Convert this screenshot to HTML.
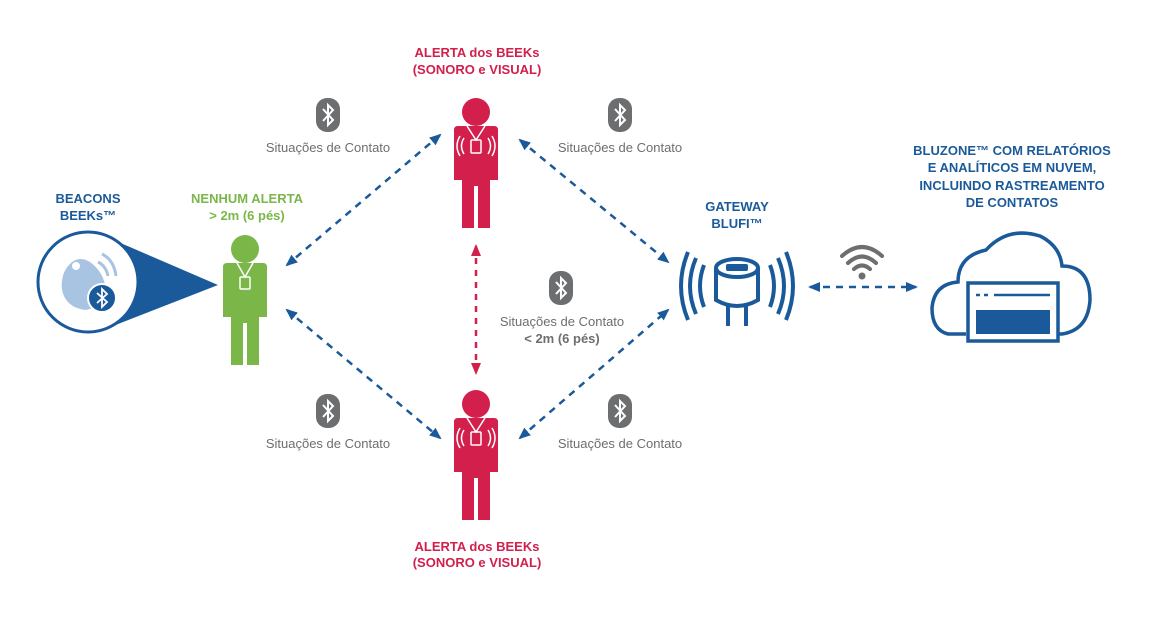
<!DOCTYPE html>
<html><head><meta charset="utf-8"><style>
body{margin:0;background:#fff;}
svg text{font-family:"Liberation Sans",sans-serif;}
.b{font-weight:bold;font-size:13px;}
.g{font-size:13px;fill:#6d6e70;}
</style></head><body>
<svg width="1170" height="616" viewBox="0 0 1170 616" xmlns="http://www.w3.org/2000/svg">
<defs>
<marker id="ab" markerUnits="userSpaceOnUse" markerWidth="12" markerHeight="12" refX="10" refY="6" orient="auto-start-reverse"><path d="M0,1 L12,6 L0,11z" fill="#1b5a9a"/></marker>
<marker id="ar" markerUnits="userSpaceOnUse" markerWidth="12" markerHeight="12" refX="10" refY="6" orient="auto-start-reverse"><path d="M0,1 L12,6 L0,11z" fill="#d21f4c"/></marker>
<g id="bt"><rect x="-12" y="-17" width="24" height="34" rx="11" fill="#6d6e70"/><path d="M-5,-6 L5,5 L0,10 L0,-10 L5,-5 L-5,6" fill="none" stroke="#fff" stroke-width="2"/></g>
<g id="person">
<circle cx="0" cy="-16" r="14"/>
<path d="M-22,2 Q-22,-2 -18,-2 L18,-2 Q22,-2 22,2 L22,52 L14,52 L14,100 L2,100 L2,58 L-2,58 L-2,100 L-14,100 L-14,52 L-22,52z"/>
</g>
</defs>
<!-- texts -->
<g class="b" fill="#d21f4c" text-anchor="middle">
<text x="477" y="57">ALERTA dos BEEKs</text><text x="477" y="74">(SONORO e VISUAL)</text>
<text x="477" y="551">ALERTA dos BEEKs</text><text x="477" y="567">(SONORO e VISUAL)</text>
</g>
<g class="b" fill="#1b5a9a" text-anchor="middle">
<text x="88" y="203">BEACONS</text><text x="88" y="220">BEEKs™</text>
<text x="737" y="211">GATEWAY</text><text x="737" y="228">BLUFI™</text>
<text x="1012" y="155">BLUZONE™ COM RELATÓRIOS</text>
<text x="1012" y="172">E ANALÍTICOS EM NUVEM,</text>
<text x="1012" y="190">INCLUINDO RASTREAMENTO</text>
<text x="1012" y="207">DE CONTATOS</text>
</g>
<g class="b" fill="#7ab648" text-anchor="middle"><text x="247" y="203">NENHUM ALERTA</text><text x="247" y="220">&gt; 2m (6 pés)</text></g>
<g class="g" text-anchor="middle">
<text x="328" y="152">Situações de Contato</text><text x="620" y="152">Situações de Contato</text>
<text x="328" y="448">Situações de Contato</text><text x="620" y="448">Situações de Contato</text>
<text x="562" y="326">Situações de Contato</text>
<text x="562" y="343" font-weight="bold">&lt; 2m (6 pés)</text>
</g>
<use href="#bt" x="328" y="115"/><use href="#bt" x="620" y="115"/><use href="#bt" x="561" y="288"/>
<use href="#bt" x="328" y="411"/><use href="#bt" x="620" y="411"/>
<!-- arrows -->
<g stroke="#1b5a9a" stroke-width="2.5" stroke-dasharray="7,6" fill="none">
<path d="M440,135 L287,265" marker-start="url(#ab)" marker-end="url(#ab)"/>
<path d="M520,140 L668,262" marker-start="url(#ab)" marker-end="url(#ab)"/>
<path d="M287,310 L440,438" marker-start="url(#ab)" marker-end="url(#ab)"/>
<path d="M520,438 L668,310" marker-start="url(#ab)" marker-end="url(#ab)"/>
<path d="M810,287 L916,287" marker-start="url(#ab)" marker-end="url(#ab)"/>
</g>
<path d="M476,246 L476,373" stroke="#d21f4c" stroke-width="2.5" stroke-dasharray="6,6" marker-start="url(#ar)" marker-end="url(#ar)"/>
<!-- persons -->
<g fill="#d21f4c"><use href="#person" x="476" y="128"/><use href="#person" x="476" y="420"/></g>
<g fill="#7ab648"><use href="#person" x="245" y="265"/></g>
<g fill="none" stroke="#fff" stroke-width="1.5">
<path d="M467,126 L476,140 L485,126"/><rect x="471" y="140" width="10" height="13" rx="1"/>
<path d="M464,138 Q459,146 464,154 M460,136 Q454,146 460,156 M488,138 Q493,146 488,154 M492,136 Q498,146 492,156"/>
<path d="M467,418 L476,432 L485,418"/><rect x="471" y="432" width="10" height="13" rx="1"/>
<path d="M464,430 Q459,438 464,446 M460,428 Q454,438 460,448 M488,430 Q493,438 488,446 M492,428 Q498,438 492,448"/>
<path d="M237,263 L245,277 L253,263"/><rect x="240" y="277" width="10" height="12" rx="1"/>
</g>
<!-- beacon -->
<path d="M95,232 L218,285 L95,333z" fill="#1b5a9a"/>
<circle cx="88" cy="282" r="50" fill="#fff" stroke="#1b5a9a" stroke-width="3"/>
<path d="M72,262 Q60,272 62,290 Q66,308 86,310 Q104,306 106,290 Q104,272 90,262 Q80,256 72,262z" fill="#a9c3e3"/>
<circle cx="76" cy="266" r="4" fill="#fff"/>
<path d="M98,262 Q106,266 108,276 M102,254 Q114,260 116,276" stroke="#a9c3e3" stroke-width="3" fill="none"/>
<circle cx="102" cy="298" r="14" fill="#1b5a9a" stroke="#fff" stroke-width="2"/>
<path d="M97,293 L107,302 L102,307 L102,289 L107,294 L97,303" fill="none" stroke="#fff" stroke-width="1.8"/>
<!-- gateway -->
<g stroke="#1b5a9a" stroke-width="4" fill="none">
<path d="M704,265 Q696,286 704,307 M696,258 Q684,286 696,314 M688,252 Q674,286 688,320"/>
<path d="M770,265 Q778,286 770,307 M778,258 Q790,286 778,314 M786,252 Q800,286 786,320"/>
<path d="M716,268 L716,300 Q737,312 758,300 L758,268"/>
<ellipse cx="737" cy="268" rx="21" ry="9" fill="#fff"/>
<path d="M728,306 L728,326 M746,306 L746,326"/>
</g>
<rect x="726" y="264" width="22" height="7" rx="2" fill="#1b5a9a"/>
<!-- wifi -->
<g stroke="#6d6e70" stroke-width="4" fill="none" stroke-linecap="round">
<path d="M842,256 Q862,238 882,256 M848,263 Q862,250 876,263 M854,269 Q862,262 870,269"/></g>
<circle cx="862" cy="276" r="3.5" fill="#6d6e70"/>
<!-- cloud -->
<path d="M966,334 L948,334 Q932,330 932,308 Q934,284 958,282 Q958,256 986,250 Q1008,226 1040,236 Q1060,246 1062,266 Q1090,266 1090,300 Q1088,330 1062,334 L1058,334" fill="none" stroke="#1b5a9a" stroke-width="3.5"/>
<rect x="968" y="283" width="90" height="58" fill="#fff" stroke="#1b5a9a" stroke-width="3.5"/>
<rect x="976" y="310" width="74" height="24" fill="#1b5a9a"/>
<path d="M976,295 L980,295 M984,295 L988,295 M994,295 L1050,295" stroke="#1b5a9a" stroke-width="2.5"/>
</svg>
</body></html>
